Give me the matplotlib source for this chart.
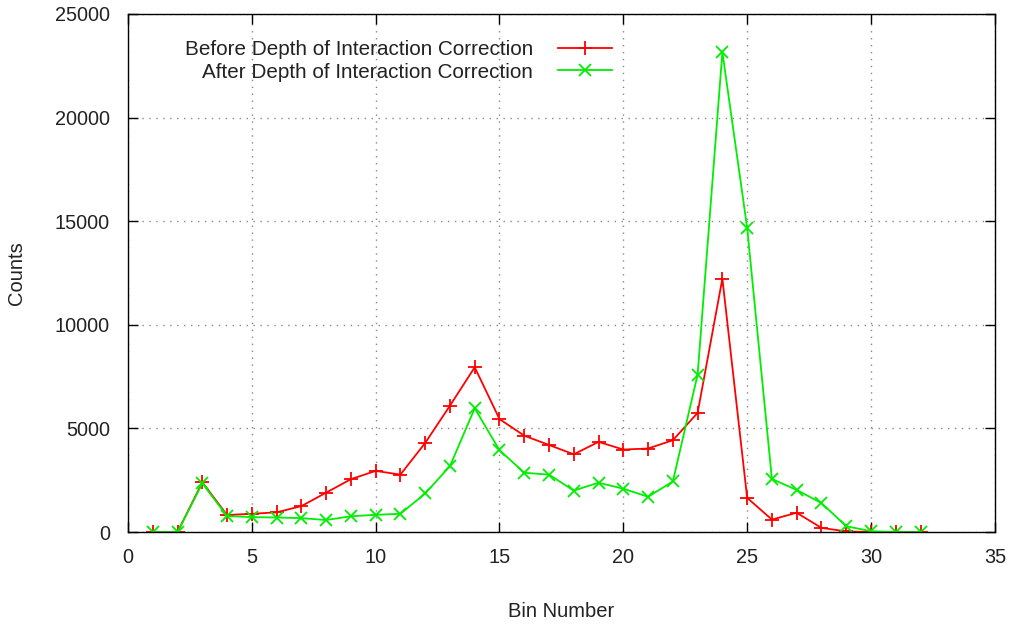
import matplotlib
matplotlib.use("Agg")
import matplotlib.pyplot as plt

bins = list(range(1, 33))
before = [0, 0, 2400, 820, 880, 950, 1250, 1900, 2550, 2950, 2770, 4300,
          6100, 7950, 5450, 4650, 4200, 3750, 4350, 3980, 4030, 4430,
          5750, 12230, 1650, 600, 930, 200, 30, 0, 0, 0]
after = [0, 0, 2350, 770, 720, 700, 670, 580, 760, 830, 880, 1860,
         3180, 5970, 3950, 2860, 2770, 2000, 2380, 2090, 1700, 2440,
         7600, 23160, 14680, 2560, 2030, 1400, 280, 40, 0, 0]

plt.rcParams['font.family'] = ['Liberation Sans', 'DejaVu Sans']

fig = plt.figure(figsize=(10.12, 6.24), dpi=100)
ax = fig.add_axes([0.1265, 0.1474, 0.983 - 0.1265, 0.9776 - 0.1474])

ax.plot(bins, before, color='#ff0000', marker='+', markersize=10, mew=1.3,
        lw=1.3, label='Before Depth of Interaction Correction')
ax.plot(bins, after, color='#00ee00', marker='x', markersize=8, mew=1.3,
        lw=1.3, label='After Depth of Interaction Correction')

ax.set_xlim(0, 35)
ax.set_ylim(0, 25000)
ax.set_xticks(range(0, 36, 5))
ax.set_yticks(range(0, 25001, 5000))
ax.grid(True, color='#888888', linestyle=(0, (1, 4)), lw=1)
ax.tick_params(direction='in', length=7, width=1, top=True, right=True,
               labelsize=14.3, labelcolor='#222222')
ax.tick_params(axis='y', pad=13)
ax.tick_params(axis='x', pad=11.5)
for s in ax.spines.values():
    s.set_linewidth(1)

ax.set_xlabel('Bin Number', fontsize=14.5, labelpad=25, color='#222222')
ax.set_ylabel('Counts', fontsize=14.5, labelpad=21, color='#222222')

# gnuplot-style key: text right-aligned, sample line to the right
leg = ax.legend(loc='upper right', bbox_to_anchor=(0.558, 0.949), frameon=False,
                markerfirst=False, fontsize=14.9, handlelength=2.6,
                handletextpad=1.2, labelspacing=0.15, borderpad=0,
                borderaxespad=0)
for t in leg.get_texts():
    t.set_color('#222222')

fig.savefig('out.png', dpi=100)
